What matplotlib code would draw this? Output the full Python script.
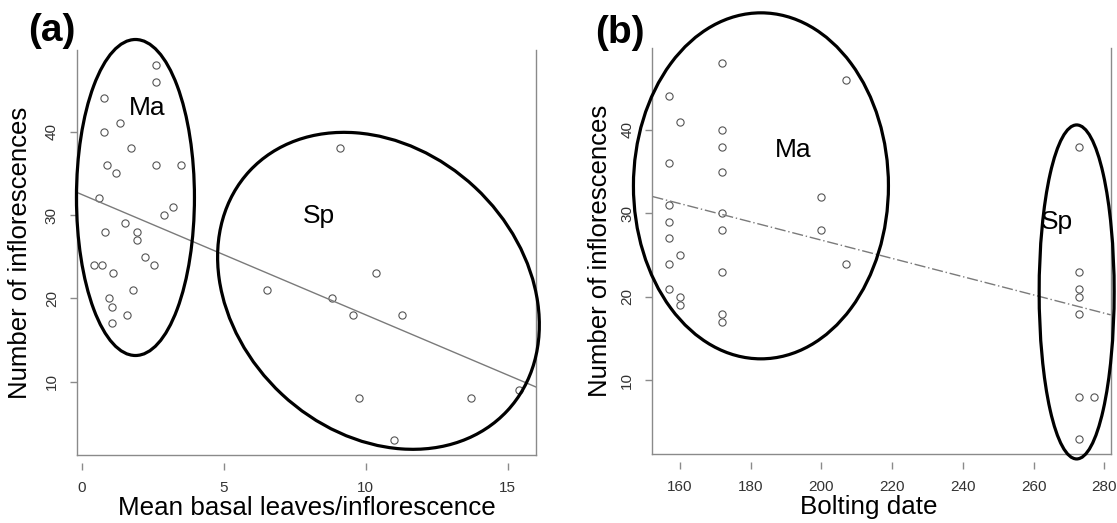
import matplotlib
matplotlib.use("Agg")
import matplotlib.pyplot as plt
from matplotlib.patches import Ellipse
from matplotlib.transforms import IdentityTransform
import numpy as np

plt.rcParams['font.family'] = ['Liberation Sans', 'DejaVu Sans']

# ---- datos panel (a): hojas basales medias vs. numero de inflorescencias
hojas_ma = [2.63, 2.62, 0.79, 1.34, 0.79, 1.75, 0.88, 1.19, 2.63, 3.49, 0.62, 3.2, 2.91, 1.53,
            0.81, 1.93, 1.93, 2.22, 2.53, 0.43, 0.71, 1.1, 1.79, 0.97, 1.06, 1.6, 1.06]
inflo_ma_a = [48, 46, 44, 41, 40, 38, 36, 35, 36, 36, 32, 31, 30, 29,
              28, 28, 27, 25, 24, 24, 24, 23, 21, 20, 19, 18, 17]
hojas_sp = [9.08, 10.36, 6.51, 8.8, 9.57, 11.27, 9.76, 13.7, 15.4, 11.0]
inflo_sp_a = [38, 23, 21, 20, 18, 18, 8, 8, 9, 3]
recta_a = (32.46, -1.444)   # ordenada, pendiente

# ---- datos panel (b): fecha de floracion vs. numero de inflorescencias
fecha_ma = [172, 207, 157, 160, 172, 172, 157, 172, 200, 157, 172, 157, 172, 200,
            157, 160, 157, 207, 172, 157, 160, 160, 172, 172]
inflo_ma_b = [48, 46, 44, 41, 40, 38, 36, 35, 32, 31, 30, 29, 28, 28,
              27, 25, 24, 24, 23, 21, 20, 19, 18, 17]
fecha_sp = [273, 273, 273, 273, 273, 273, 277, 273]
inflo_sp_b = [38, 23, 21, 20, 18, 8, 8, 3]
recta_b = (48.66, -0.1093)

xticks_a = [0, 5, 10, 15]
xticks_b = [160, 180, 200, 220, 240, 260, 280]
yticks = [10, 20, 30, 40]

W, H = 1117, 523
fig = plt.figure(figsize=(W / 100, H / 100), dpi=100)

gris = '#8a8a8a'


def rango_r(v):
    # como R: rango de los datos +- 4%
    lo, hi = min(v), max(v)
    r = hi - lo
    return lo - 0.04 * r, hi + 0.04 * r


def armar_panel(rect, xs, ys, xticks, recta, xlabel, xlab_x, ylab_x, estilo_recta):
    ax = fig.add_axes(rect)
    x = np.concatenate(xs)
    y = np.concatenate(ys)
    ax.plot(x, y, 'o', ms=5.2, mfc='none', mec='#555555', mew=0.8)
    ax.axline((0, recta[0]), slope=recta[1], color='#7a7a7a', lw=1.0, ls=estilo_recta)
    ax.set_xlim(*rango_r(x))
    ax.set_ylim(*rango_r(y))
    ax.set_xticks(xticks)
    ax.set_yticks(yticks)
    ax.spines['top'].set_visible(False)
    for s in ['left', 'right']:
        ax.spines[s].set_color(gris)
        ax.spines[s].set_linewidth(1.0)
    # eje x separado del marco, como en R
    ax.spines['bottom'].set_position(('outward', 6))
    ax.spines['bottom'].set_visible(False)
    ax.plot([0, 1], [0, 0], transform=ax.transAxes, color=gris, lw=1.0, clip_on=False)
    ax.tick_params(axis='both', color=gris, length=5, width=1.0, labelsize=11,
                   labelcolor='#333333')
    ax.tick_params(axis='y', pad=8, labelrotation=90)
    ax.tick_params(axis='x', pad=8)
    for t in ax.get_yticklabels():
        t.set_va('center')
    ax.set_xlabel(xlabel, fontsize=18.7)
    ax.xaxis.label.set_va('center')
    ax.xaxis.set_label_coords(xlab_x, -0.131)
    ax.set_ylabel('Number of inflorescences', fontsize=18.5)
    ax.yaxis.label.set_va('center')
    ax.yaxis.set_label_coords(ylab_x, 0.5)
    return ax


def elipse(ax, cx, cy, w, h, ang=0):
    px, py = ax.transData.transform((cx, cy))
    e = Ellipse((px, py), w, h, angle=ang, transform=IdentityTransform(),
                fill=False, ec='black', lw=2.3, clip_on=False)
    fig.add_artist(e)


ax1 = armar_panel([77 / W, 68 / H, 459 / W, 405 / H], [hojas_ma, hojas_sp],
                  [inflo_ma_a, inflo_sp_a], xticks_a, recta_a,
                  'Mean basal leaves/inflorescence', 0.501, -0.124, '-')
ax2 = armar_panel([652.4 / W, 69 / H, 458.2 / W, 406 / H], [fecha_ma, fecha_sp],
                  [inflo_ma_b, inflo_sp_b], xticks_b, recta_b,
                  'Bolting date', 0.473, -0.114, (0, (8, 2, 1, 2)))

elipse(ax1, 1.89, 32.1, 118, 316)
elipse(ax1, 10.45, 20.9, 352, 283, -43)
elipse(ax2, 182.9, 33.3, 255, 346)
elipse(ax2, 272.2, 20.6, 75, 334)

ax1.text(2.3, 42.0, 'Ma', fontsize=19, ha='center', va='baseline')
ax1.text(8.34, 29.0, 'Sp', fontsize=19, ha='center', va='baseline')
ax2.text(192.0, 36.7, 'Ma', fontsize=19, ha='center', va='baseline')
ax2.text(266.5, 28.1, 'Sp', fontsize=19, ha='center', va='baseline')

fig.text(28 / W, 1 - 13 / H, '(a)', fontsize=28, fontweight='bold', ha='left', va='top')
fig.text(595 / W, 1 - 15 / H, '(b)', fontsize=28, fontweight='bold', ha='left', va='top')

fig.savefig('out.png', dpi=100)
